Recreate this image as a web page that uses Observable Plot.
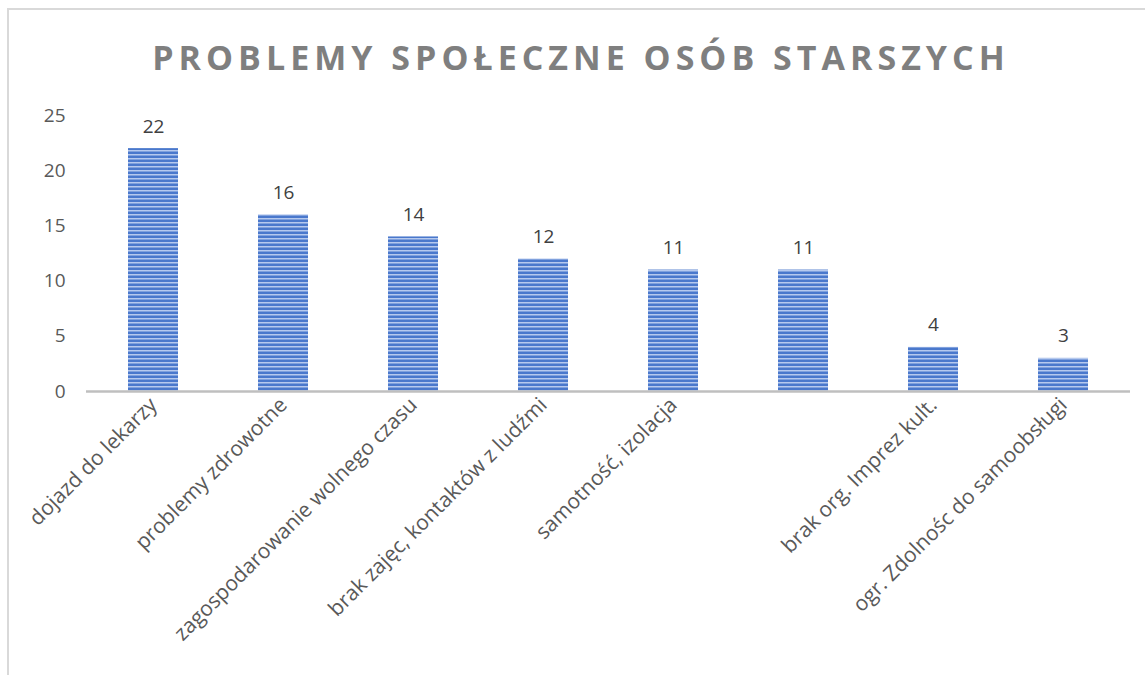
<!DOCTYPE html>
<html><head><meta charset="utf-8">
<script src="https://cdn.jsdelivr.net/npm/d3@7"></script>
<script src="https://cdn.jsdelivr.net/npm/@observablehq/plot@0.6"></script>
<style>
body{margin:0;background:#fff;font-family:"Open Sans",sans-serif;}
#wrap{position:relative;width:1145px;height:675px;overflow:hidden;}
#frame{position:absolute;left:7px;top:8px;width:1200px;height:800px;border-top:2px solid #d9d9d9;border-left:2px solid #d9d9d9;}
#title{position:absolute;left:0;top:0;width:1162px;height:92px;text-align:center;line-height:1;padding-top:40px;box-sizing:border-box;font-size:34px;font-weight:bold;letter-spacing:5px;color:#7f7f7f;}
#chart{position:absolute;left:0;top:92px;}
</style></head>
<body>
<svg width="0" height="0" style="position:absolute">
<defs>
<pattern id="stripes" patternUnits="userSpaceOnUse" width="8" height="4">
<rect width="8" height="4" fill="#4a78cc"/>
<rect y="2" width="8" height="1.5" fill="#b6c9ee"/>
</pattern>
</defs>
</svg>
<div id="wrap"><div id="frame"></div><div id="title">PROBLEMY SPOŁECZNE OSÓB STARSZYCH</div><div id="chart"></div></div>
<script>
const labels = ["dojazd do lekarzy","problemy zdrowotne","zagospodarowanie wolnego czasu","brak zajęc, kontaktów z ludźmi","samotność, izolacja","","brak org. Imprez kult.","ogr. Zdolnośc do samoobsługi"];
const values = [22,16,14,12,11,11,4,3];
const yTicks = [0,5,10,15,20,25];
const keys = labels.map((l,i)=>i);
const data = keys.map(i=>({k:i,label:labels[i],v:values[i]}));
const chart = Plot.plot({
  width:1145, height:583,
  marginTop:23, marginBottom:284, marginLeft:86, marginRight:15,
  style:{fontFamily:"Open Sans, sans-serif", fontSize:"19px", color:"#595959", background:"transparent"},
  x:{type:"band", domain:keys, paddingInner:0.617, paddingOuter:0.3085, align:0.5},
  y:{domain:[0,25]},
  marks:[
    Plot.axisY({ticks:yTicks, tickSize:0, tickPadding:21, label:null, fontSize:19}),
    Plot.axisX({tickSize:0, tickPadding:10, tickRotate:-45, label:null, tickFormat:d=>labels[d], fontSize:21}),
    Plot.barY(data,{x:"k", y:"v", fill:"url(#stripes)"}),
    Plot.ruleY([0],{stroke:"#bfbfbf", strokeWidth:2.5}),
    Plot.text(data,{x:"k", y:"v", text:d=>String(d.v), lineAnchor:"bottom", dy:-16, fill:"#404040", fontSize:19})
  ]
});
document.getElementById("chart").appendChild(chart);
</script>
</body></html>
